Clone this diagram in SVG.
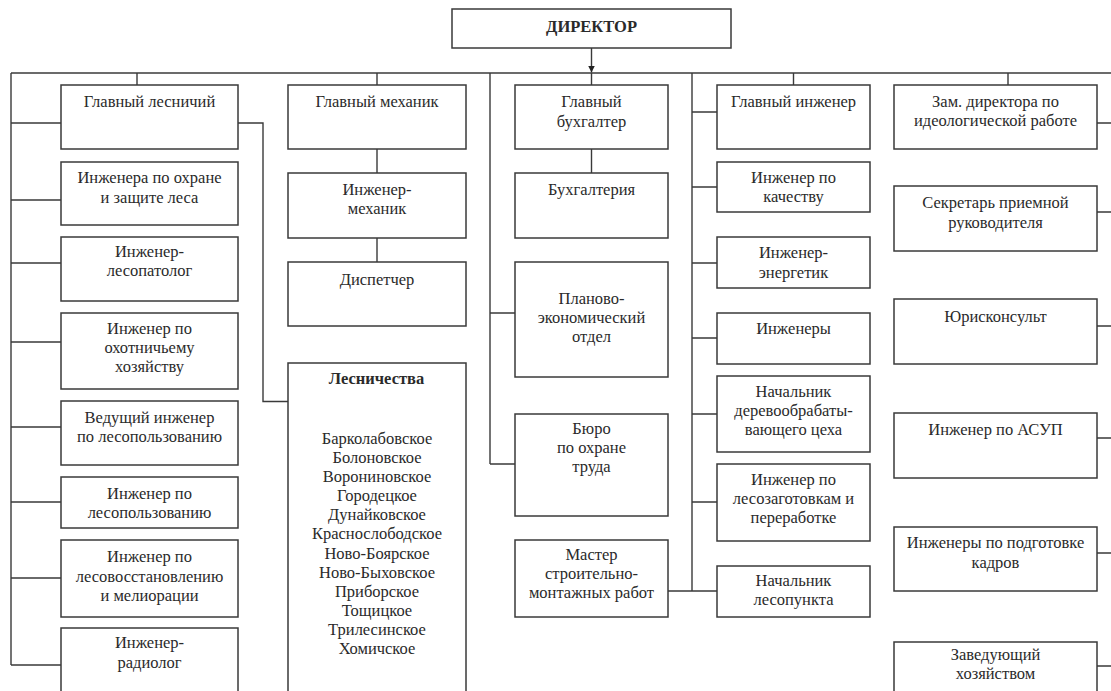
<svg xmlns="http://www.w3.org/2000/svg" width="1111" height="691" viewBox="0 0 1111 691">
<defs>
<style>
.box{fill:#fff;stroke:#3a3a3a;stroke-width:1.5}
.ln{fill:none;stroke:#3a3a3a;stroke-width:1.4}
text{font-family:"Liberation Serif","Times New Roman","DejaVu Serif",serif;font-size:16.5px;fill:#2a2a2a;text-anchor:middle}
.b{font-weight:bold}
</style>
<marker id="ah" markerWidth="8" markerHeight="8" refX="7" refY="3.5" orient="auto" markerUnits="userSpaceOnUse">
<path d="M0,0 L7,3.5 L0,7 Z" fill="#222"/>
</marker>
</defs>
<rect width="1111" height="691" fill="#fff"/>

<g id="connectors">
<path class="ln" d="M591.5,48 V72.5" marker-end="url(#ah)"/>
<path class="ln" d="M11,73 H1111"/>
<path class="ln" d="M11,73 V665 M11,123 H61 M11,200 H61 M11,263 H61 M11,342 H61 M11,427 H61 M11,502 H61 M11,578 H61 M11,665 H61"/>
<path class="ln" d="M137,73 V85 M238,123 H263 V401.5 H288"/>
<path class="ln" d="M377,73 V85 M377,149 V173 M377,238 V262"/>
<path class="ln" d="M591.5,73 V85 M591.5,149 V173"/>
<path class="ln" d="M490,73 V464 M490,313 H515 M490,464 H515"/>
<path class="ln" d="M668,591 H717 M692,73 V591 M692,112 H717 M692,187 H717 M692,263 H717 M692,338 H717 M692,414 H717 M692,502 H717"/>
<path class="ln" d="M793.5,73 V85 M1008,73 V85"/>
<path class="ln" d="M1097,123 H1111 M1097,212 H1111 M1097,326 H1111 M1097,438 H1111 M1097,553 H1111 M1097,666 H1111"/>
</g>

<g id="director"><rect class="box" x="452" y="9" width="279" height="39"/><text class="b" x="591.5" y="32">ДИРЕКТОР</text></g>

<g id="glavny-lesnichy"><rect class="box" x="61" y="85" width="177" height="64"/><text x="149.5" y="107">Главный лесничий</text></g>
<g id="inzh-okhrana-lesa"><rect class="box" x="61" y="162" width="177" height="63"/><text x="149.5" y="183">Инженера по охране</text><text x="149.5" y="202.5">и защите леса</text></g>
<g id="inzh-lesopatolog"><rect class="box" x="61" y="237" width="177" height="64"/><text x="149.5" y="257">Инженер-</text><text x="149.5" y="276">лесопатолог</text></g>
<g id="inzh-okhota"><rect class="box" x="61" y="313" width="177" height="76"/><text x="149.5" y="333.5">Инженер по</text><text x="149.5" y="352.5">охотничьему</text><text x="149.5" y="371.5">хозяйству</text></g>
<g id="ved-inzh-lesopolz"><rect class="box" x="61" y="401" width="177" height="64"/><text x="149.5" y="423">Ведущий инженер</text><text x="149.5" y="442">по лесопользованию</text></g>
<g id="inzh-lesopolz"><rect class="box" x="61" y="477" width="177" height="51"/><text x="149.5" y="499">Инженер по</text><text x="149.5" y="518">лесопользованию</text></g>
<g id="inzh-lesovosst"><rect class="box" x="61" y="540" width="177" height="77"/><text x="149.5" y="562">Инженер по</text><text x="149.5" y="581.5">лесовосстановлению</text><text x="149.5" y="601">и мелиорации</text></g>
<g id="inzh-radiolog"><rect class="box" x="61" y="628" width="177" height="80"/><text x="149.5" y="648">Инженер-</text><text x="149.5" y="667.5">радиолог</text></g>

<g id="glavny-mekhanik"><rect class="box" x="288" y="85" width="178" height="64"/><text x="377" y="107">Главный механик</text></g>
<g id="inzh-mekhanik"><rect class="box" x="288" y="173" width="178" height="65"/><text x="377" y="195">Инженер-</text><text x="377" y="214">механик</text></g>
<g id="dispetcher"><rect class="box" x="288" y="262" width="178" height="64"/><text x="377" y="285">Диспетчер</text></g>
<g id="lesnichestva"><rect class="box" x="288" y="363" width="178" height="345"/><text class="b" x="376.5" y="384">Лесничества</text>
<text x="377" y="443.5">Барколабовское</text><text x="377" y="462.5">Болоновское</text><text x="377" y="481.5">Ворониновское</text><text x="377" y="501">Городецкое</text><text x="377" y="520">Дунайковское</text><text x="377" y="539">Краснослободское</text><text x="377" y="558.5">Ново-Боярское</text><text x="377" y="577.5">Ново-Быховское</text><text x="377" y="596.5">Приборское</text><text x="377" y="616">Тощицкое</text><text x="377" y="635">Трилесинское</text><text x="377" y="654">Хомичское</text></g>

<g id="glavny-bukhgalter"><rect class="box" x="515" y="85" width="153" height="64"/><text x="591.5" y="107">Главный</text><text x="591.5" y="127">бухгалтер</text></g>
<g id="bukhgalteriya"><rect class="box" x="515" y="173" width="153" height="65"/><text x="591.5" y="195">Бухгалтерия</text></g>
<g id="plan-ekon"><rect class="box" x="515" y="262" width="153" height="115"/><text x="591.5" y="304">Планово-</text><text x="591.5" y="323">экономический</text><text x="591.5" y="342">отдел</text></g>
<g id="byuro-okhrana"><rect class="box" x="515" y="414" width="153" height="102"/><text x="591.5" y="434">Бюро</text><text x="591.5" y="453">по охране</text><text x="591.5" y="472">труда</text></g>
<g id="master-smr"><rect class="box" x="515" y="540" width="153" height="77"/><text x="591.5" y="560">Мастер</text><text x="591.5" y="579">строительно-</text><text x="591.5" y="598">монтажных работ</text></g>

<g id="glavny-inzhener"><rect class="box" x="717" y="85" width="153" height="64"/><text x="793.5" y="107">Главный инженер</text></g>
<g id="inzh-kachestvo"><rect class="box" x="717" y="162" width="153" height="50"/><text x="793.5" y="183">Инженер по</text><text x="793.5" y="202">качеству</text></g>
<g id="inzh-energetik"><rect class="box" x="717" y="237" width="153" height="51"/><text x="793.5" y="258">Инженер-</text><text x="793.5" y="277.5">энергетик</text></g>
<g id="inzhenery"><rect class="box" x="717" y="313" width="153" height="51"/><text x="793.5" y="334">Инженеры</text></g>
<g id="nach-derevo"><rect class="box" x="717" y="376" width="153" height="76"/><text x="793.5" y="396.5">Начальник</text><text x="793.5" y="415.5">деревообрабаты-</text><text x="793.5" y="435">вающего цеха</text></g>
<g id="inzh-lesozag"><rect class="box" x="717" y="464" width="153" height="77"/><text x="793.5" y="485">Инженер по</text><text x="793.5" y="504">лесозаготовкам и</text><text x="793.5" y="523">переработке</text></g>
<g id="nach-lesopunkt"><rect class="box" x="717" y="566" width="153" height="51"/><text x="793.5" y="586">Начальник</text><text x="793.5" y="605">лесопункта</text></g>

<g id="zam-direktora"><rect class="box" x="894" y="85" width="203" height="64"/><text x="995.5" y="106.5">Зам. директора по</text><text x="995.5" y="126">идеологической работе</text></g>
<g id="sekretar"><rect class="box" x="894" y="186" width="203" height="65"/><text x="995.5" y="208">Секретарь приемной</text><text x="995.5" y="227.5">руководителя</text></g>
<g id="yuriskonsult"><rect class="box" x="894" y="299" width="203" height="65"/><text x="995.5" y="321.5">Юрисконсульт</text></g>
<g id="inzh-asup"><rect class="box" x="894" y="413" width="203" height="65"/><text x="995.5" y="435">Инженер по АСУП</text></g>
<g id="inzh-kadry"><rect class="box" x="894" y="527" width="203" height="64"/><text x="995.5" y="548">Инженеры по подготовке</text><text x="995.5" y="567.5">кадров</text></g>
<g id="zav-khoz"><rect class="box" x="894" y="642" width="203" height="66"/><text x="995.5" y="660">Заведующий</text><text x="995.5" y="679">хозяйством</text></g>
</svg>
